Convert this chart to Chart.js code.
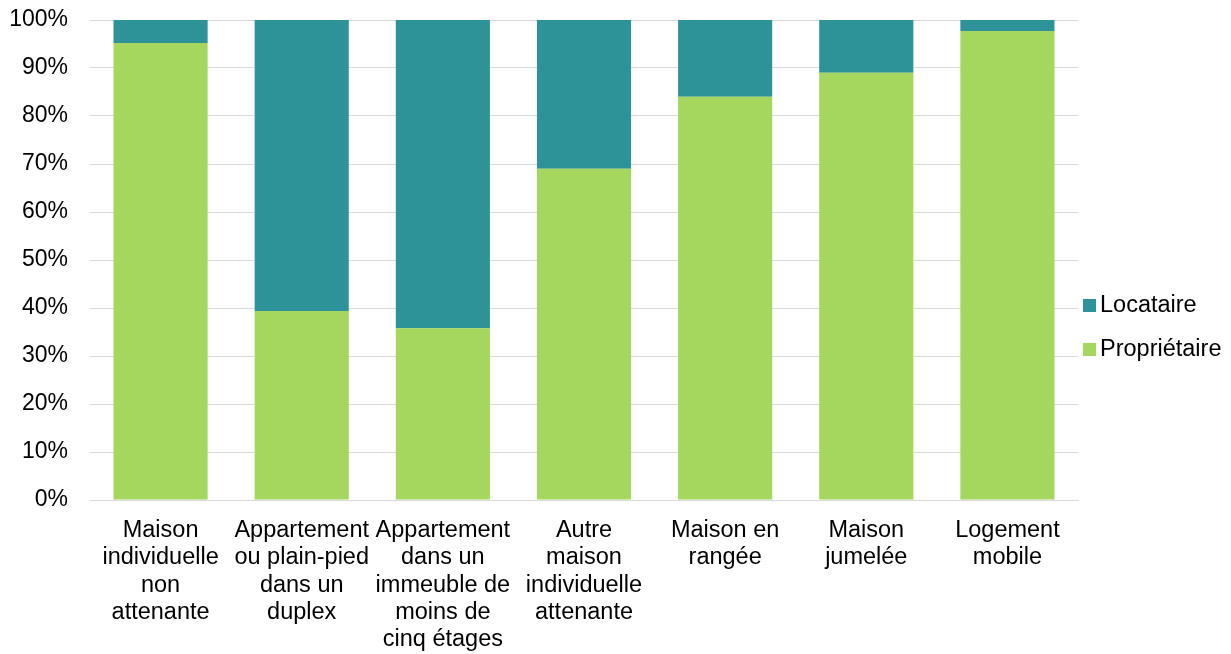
<!DOCTYPE html>
<html lang="fr">
<head>
    <meta charset="UTF-8">
    <title>Propriétaire / Locataire</title>
    <style>
        html, body { margin: 0; padding: 0; background: #fff; }
        .chart-container { width: 1231px; height: 654px; }
    </style>
    <script src="https://cdn.jsdelivr.net/npm/chart.js"></script>
</head>
<body>
    <div class="chart-container">
        <canvas id="chart"></canvas>
    </div>
    <script>
        const categories = [
            ['Maison', 'individuelle', 'non', 'attenante'],
            ['Appartement', 'ou plain-pied', 'dans un', 'duplex'],
            ['Appartement', 'dans un', 'immeuble de', 'moins de', 'cinq étages'],
            ['Autre', 'maison', 'individuelle', 'attenante'],
            ['Maison en', 'rangée'],
            ['Maison', 'jumelée'],
            ['Logement', 'mobile']
        ];
        const proprietaire = [95.2, 39.4, 35.8, 69.0, 84.0, 89.0, 97.7];
        const locataire = [4.8, 60.6, 64.2, 31.0, 16.0, 11.0, 2.3];

        const fontFamily = "'Liberation Sans', Arial, sans-serif";
        const labelFont = { family: fontFamily, size: 23.5, lineHeight: 1.16 };
        const tickFont = { family: fontFamily, size: 23 };
        Chart.defaults.color = '#000';

        // legend on the right, drawn by hand so it sits close to the plot
        const sideLegend = {
            id: 'sideLegend',
            afterDraw(chart) {
                const ctx = chart.ctx;
                const x = chart.chartArea.right + 5;
                const items = chart.data.datasets.slice().reverse();
                const gap = 44;
                let y = chart.height / 2 - gap / 2 * (items.length - 1);
                ctx.save();
                ctx.font = `23.5px ${fontFamily}`;
                ctx.textBaseline = 'middle';
                ctx.textAlign = 'left';
                items.forEach(ds => {
                    ctx.fillStyle = ds.backgroundColor;
                    ctx.fillRect(x, y - 6, 13, 13);
                    ctx.fillStyle = '#000';
                    ctx.fillText(ds.label, x + 17, y + 1);
                    y += gap;
                });
                ctx.restore();
            }
        };

        new Chart(document.getElementById('chart'), {
            type: 'bar',
            data: {
                labels: categories,
                datasets: [
                    { label: 'Propriétaire', data: proprietaire, backgroundColor: '#a5d65e' },
                    { label: 'Locataire', data: locataire, backgroundColor: '#2e9399' }
                ]
            },
            options: {
                responsive: true,
                maintainAspectRatio: false,
                animation: false,
                categoryPercentage: 1,
                barPercentage: 0.667,
                layout: { padding: { top: 0, right: 153, left: 0, bottom: 0 } },
                plugins: {
                    tooltip: { enabled: false },
                    legend: { display: false }
                },
                scales: {
                    x: {
                        stacked: true,
                        grid: { display: false },
                        border: { color: '#d9d9d9', width: 1 },
                        ticks: { font: labelFont, maxRotation: 0, autoSkip: false, padding: 9 },
                        afterFit: s => { s.height = 154; }
                    },
                    y: {
                        stacked: true,
                        min: 0,
                        max: 100,
                        grid: { color: '#d9d9d9', drawTicks: false },
                        border: { display: false },
                        ticks: {
                            font: tickFont,
                            stepSize: 10,
                            padding: 22,
                            callback: v => v + '%'
                        },
                        afterFit: s => { s.width = 90; s.paddingTop = 20; s.paddingBottom = 0; }
                    }
                }
            },
            plugins: [sideLegend]
        });
    </script>
</body>
</html>
